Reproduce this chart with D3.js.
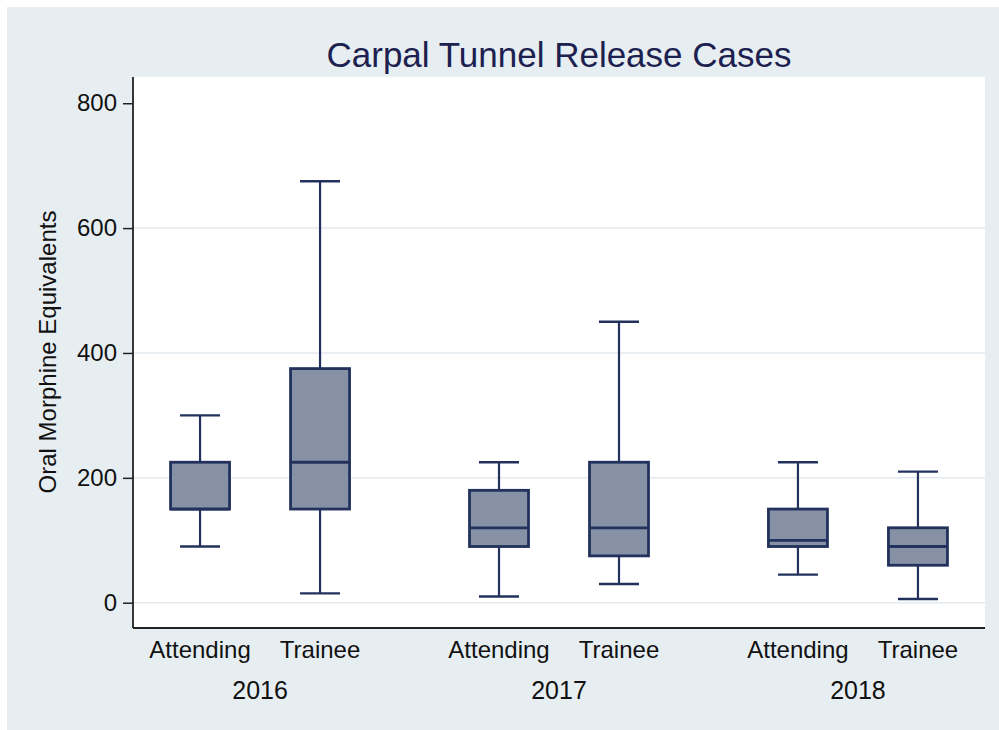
<!DOCTYPE html>
<html>
<head>
<meta charset="utf-8">
<script src="https://cdn.jsdelivr.net/npm/d3@7"></script>
<style>
  body { margin: 0; background: #fff; }
  text { font-family: "Liberation Sans", Arial, Helvetica, sans-serif; }
</style>
</head>
<body>
<div id="chart"></div>
<script>
const years = ["2016", "2017", "2018"];
const roles = ["Attending", "Trainee"];
// one entry per box, in year/role order
const boxYear = ["2016", "2016", "2017", "2017", "2018", "2018"];
const boxRole = ["Attending", "Trainee", "Attending", "Trainee", "Attending", "Trainee"];
const whiskerLow  = [90, 15, 10, 30, 45, 6];
const quartile1   = [150, 150, 90, 75, 90, 60];
const medians     = [150, 225, 120, 120, 100, 90];
const quartile3   = [225, 375, 180, 225, 150, 120];
const whiskerHigh = [300, 675, 225, 450, 225, 210];
const yTicks = [0, 200, 400, 600, 800];
const gridTicks = [0, 200, 400, 600];

const W = 999, H = 730;
const plot = { left: 133, top: 77, right: 985, bottom: 628 };

const boxes = boxYear.map((y, i) => ({
    year: y, role: boxRole[i],
    min: whiskerLow[i], q1: quartile1[i], med: medians[i], q3: quartile3[i], max: whiskerHigh[i]
}));

const svg = d3.select("#chart").append("svg")
    .attr("width", W)
    .attr("height", H);

svg.append("rect")
    .attr("x", 7).attr("y", 7)
    .attr("width", W - 7).attr("height", H - 7)
    .attr("fill", "#e7eef1");

svg.append("rect")
    .attr("x", plot.left).attr("y", plot.top)
    .attr("width", plot.right - plot.left).attr("height", plot.bottom - plot.top)
    .attr("fill", "#ffffff");

const yScale = d3.scaleLinear().domain([-40.5, 842]).range([plot.bottom, plot.top]);
const xYear = d3.scalePoint().domain(years).range([plot.left, plot.right]).padding(0.425);
const xRole = d3.scalePoint().domain(roles).range([-60, 60]);
const cx = d => xYear(d.year) + xRole(d.role);
const boxW = 59, capW = 40;
const navy = "#22325c";

svg.selectAll(".grid")
    .data(gridTicks)
    .enter().append("line")
    .attr("class", "grid")
    .attr("x1", plot.left)
    .attr("x2", plot.right)
    .attr("y1", d => yScale(d))
    .attr("y2", d => yScale(d))
    .attr("stroke", "#e3eaf0")
    .attr("stroke-width", 1.5);

// whiskers
svg.selectAll(".whisker")
    .data(boxes)
    .enter().append("line")
    .attr("class", "whisker")
    .attr("x1", cx).attr("x2", cx)
    .attr("y1", d => yScale(d.min))
    .attr("y2", d => yScale(d.max))
    .attr("stroke", navy)
    .attr("stroke-width", 2.2);

["min", "max"].forEach(k => {
    svg.selectAll(".cap-" + k)
        .data(boxes)
        .enter().append("line")
        .attr("class", "cap-" + k)
        .attr("x1", d => cx(d) - capW / 2)
        .attr("x2", d => cx(d) + capW / 2)
        .attr("y1", d => yScale(d[k]))
        .attr("y2", d => yScale(d[k]))
        .attr("stroke", navy)
        .attr("stroke-width", 2.4);
});

svg.selectAll(".box")
    .data(boxes)
    .enter().append("rect")
    .attr("class", "box")
    .attr("x", d => cx(d) - boxW / 2)
    .attr("y", d => yScale(d.q3))
    .attr("width", boxW)
    .attr("height", d => yScale(d.q1) - yScale(d.q3))
    .attr("fill", "#8791a6")
    .attr("stroke", navy)
    .attr("stroke-width", 2.8);

svg.selectAll(".median")
    .data(boxes)
    .enter().append("line")
    .attr("class", "median")
    .attr("x1", d => cx(d) - boxW / 2)
    .attr("x2", d => cx(d) + boxW / 2)
    .attr("y1", d => yScale(d.med))
    .attr("y2", d => yScale(d.med))
    .attr("stroke", navy)
    .attr("stroke-width", 2.8);

// axes
const yAxis = d3.axisLeft(yScale).tickValues(yTicks).tickSize(10).tickPadding(6).tickSizeOuter(0);
const gy = svg.append("g")
    .attr("transform", `translate(${plot.left},0)`)
    .call(yAxis);
gy.select(".domain").remove();
gy.selectAll(".tick line").attr("stroke", "#222").attr("stroke-width", 1.5);
gy.selectAll(".tick text")
    .attr("font-size", "24px")
    .attr("fill", "#111")
    .style("font-family", "'Liberation Sans', Arial, sans-serif");

svg.append("line")
    .attr("x1", plot.left).attr("x2", plot.left)
    .attr("y1", plot.top).attr("y2", plot.bottom)
    .attr("stroke", "#222").attr("stroke-width", 1.8);
svg.append("line")
    .attr("x1", plot.left).attr("x2", plot.right)
    .attr("y1", plot.bottom).attr("y2", plot.bottom)
    .attr("stroke", "#222").attr("stroke-width", 1.8);

svg.selectAll(".roleLabel")
    .data(boxes)
    .enter().append("text")
    .attr("class", "roleLabel")
    .attr("x", cx)
    .attr("y", 658)
    .attr("text-anchor", "middle")
    .attr("font-size", "24px")
    .attr("fill", "#111")
    .text(d => d.role);

svg.selectAll(".yearLabel")
    .data(years)
    .enter().append("text")
    .attr("class", "yearLabel")
    .attr("x", d => xYear(d))
    .attr("y", 699)
    .attr("text-anchor", "middle")
    .attr("font-size", "25px")
    .attr("fill", "#111")
    .text(d => d);

svg.append("text")
    .attr("x", 56)
    .attr("y", 352)
    .attr("text-anchor", "middle")
    .attr("transform", "rotate(-90, 56, 352)")
    .attr("font-size", "24px")
    .attr("fill", "#111")
    .text("Oral Morphine Equivalents");

svg.append("text")
    .attr("x", (plot.left + plot.right) / 2)
    .attr("y", 67)
    .attr("text-anchor", "middle")
    .attr("font-size", "35px")
    .attr("fill", "#1c2150")
    .text("Carpal Tunnel Release Cases");
</script>
</body>
</html>
